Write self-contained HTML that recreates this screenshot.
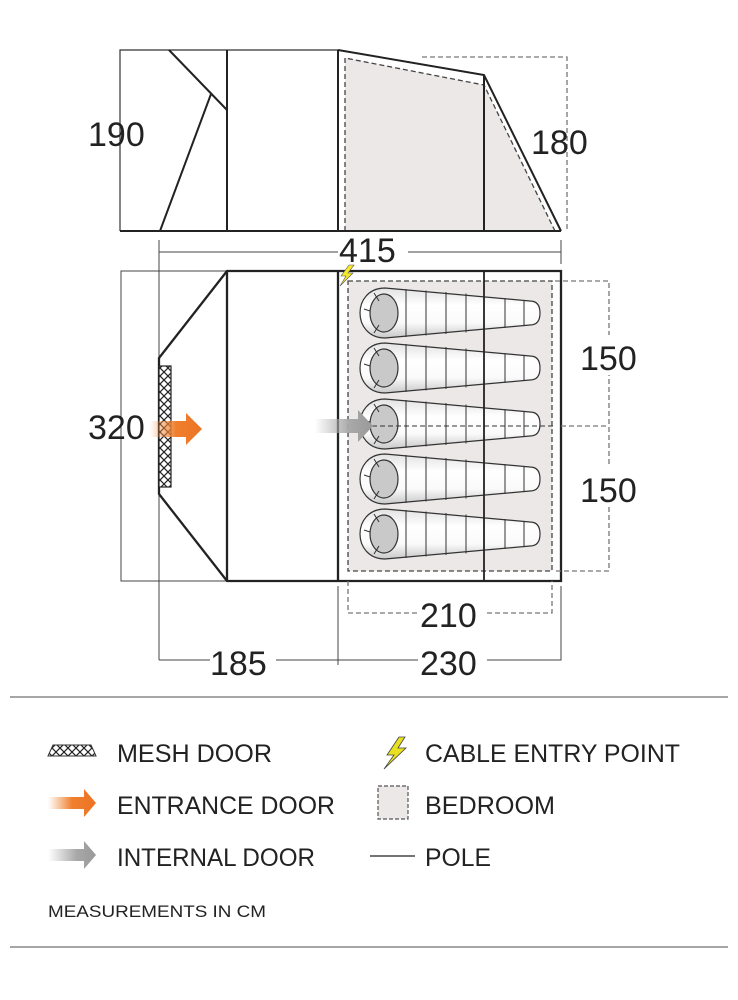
<!DOCTYPE html>
<html><head><meta charset="utf-8"><style>
html,body{margin:0;padding:0;background:#fff;}
svg{display:block;font-family:"Liberation Sans",sans-serif;}
</style></head><body>
<svg width="738" height="1000" viewBox="0 0 738 1000" xmlns="http://www.w3.org/2000/svg">
<defs>
<linearGradient id="og" x1="0" x2="1"><stop offset="0" stop-color="#f08a3c" stop-opacity="0"/><stop offset="0.5" stop-color="#ef7f2e"/><stop offset="1" stop-color="#ec7424"/></linearGradient>
<linearGradient id="gg" x1="0" x2="1"><stop offset="0" stop-color="#aaa" stop-opacity="0"/><stop offset="0.6" stop-color="#a8a8a8"/><stop offset="1" stop-color="#999"/></linearGradient>
<linearGradient id="bg" x1="0" y1="0" x2="0" y2="1"><stop offset="0" stop-color="#e2e2e2"/><stop offset="0.35" stop-color="#fff"/><stop offset="0.7" stop-color="#fafafa"/><stop offset="1" stop-color="#c8c8c8"/></linearGradient>
<pattern id="mesh" width="8" height="8" patternUnits="userSpaceOnUse"><rect width="8" height="8" fill="#fff"/><path d="M0 0L8 8M8 0L0 8" stroke="#222" stroke-width="1.2"/></pattern>
<g id="bag">
<path d="M25,-25 C8,-25 0,-12 0,0 C0,12 8,25 25,25 L170,12 C178,12 180,6 180,0 C180,-6 178,-12 170,-12 Z" fill="url(#bg)" stroke="#333" stroke-width="1.2"/>
<ellipse cx="24" cy="0" rx="14" ry="19" fill="#c9c9c9" stroke="#333" stroke-width="1.2"/>
<g stroke="#333" stroke-width="1">
<line x1="46" y1="-24" x2="46" y2="24"/><line x1="66" y1="-22.5" x2="66" y2="22.5"/><line x1="86" y1="-21" x2="86" y2="21"/><line x1="106" y1="-19.5" x2="106" y2="19.5"/><line x1="145" y1="-15" x2="145" y2="15"/><line x1="164" y1="-13" x2="164" y2="13"/>
<path d="M14,-20 L19,-12 M4,-4 L10,-2 M14,20 L19,12" fill="none"/>
</g>
</g>
</defs>

<!-- SIDE VIEW -->
<g fill="none">
<path d="M422,57 H567 V231" stroke="#777" stroke-width="1.3" stroke-dasharray="5,3"/>
<polygon points="345,58 484,85 555,231 345,231" fill="#ebe8e7"/>
<path d="M345,231 V58 L484,85 L555,231" stroke="#444" stroke-width="1.3" stroke-dasharray="5,3"/>
<path d="M120,231 V50 H338" stroke="#333" stroke-width="1.2"/>
<path d="M169,50 L227,110 M160,231 L211,94" stroke="#222" stroke-width="2"/>
<line x1="227" y1="50" x2="227" y2="231" stroke="#222" stroke-width="2"/>
<line x1="338" y1="50" x2="338" y2="231" stroke="#222" stroke-width="2"/>
<path d="M338,50 L484,75 L561,231" stroke="#222" stroke-width="2"/>
<line x1="484" y1="75" x2="484" y2="231" stroke="#222" stroke-width="2"/>
<line x1="120" y1="231" x2="561" y2="231" stroke="#222" stroke-width="2"/>
</g>
<text x="88" y="146" font-size="34" fill="#222">190</text>
<text x="531" y="154" font-size="34" fill="#222">180</text>

<!-- 415 -->
<g stroke="#444" stroke-width="1" fill="none">
<path d="M159,252 H338 M408,252 H561 M561,240 V264"/>
<line x1="159" y1="240" x2="159" y2="358"/>
<line x1="159" y1="494" x2="159" y2="660"/>
</g>
<text x="339" y="262" font-size="34" fill="#222">415</text>

<!-- FLOOR PLAN -->
<path d="M227,271 H121 V581 H227" fill="none" stroke="#444" stroke-width="1"/>
<rect x="348" y="281" width="204" height="290" fill="#ebe8e7" stroke="#444" stroke-width="1.3" stroke-dasharray="5,3"/>
<use href="#bag" x="360" y="313"/>
<use href="#bag" x="360" y="368"/>
<use href="#bag" x="360" y="424"/>
<use href="#bag" x="360" y="479"/>
<use href="#bag" x="360" y="534"/>
<line x1="372" y1="426" x2="555" y2="426" stroke="#333" stroke-width="1" stroke-dasharray="5,3"/>
<g fill="none" stroke="#222" stroke-width="2.3">
<path d="M227,271 H561 V581 H227 L159,494 V358 Z"/>
<line x1="227" y1="271" x2="227" y2="581"/>
<line x1="338" y1="271" x2="338" y2="581"/>
<line x1="484" y1="271" x2="484" y2="581" stroke-width="1.8"/>
</g>
<rect x="159" y="366" width="12" height="121" fill="url(#mesh)" stroke="#222" stroke-width="1.2"/>
<path d="M150,421 H186 V413 L202,429 L186,445 V437 H150 Z" fill="url(#og)"/>
<path d="M315,419 H358 V410 L373,426 L358,442 V433 H315 Z" fill="url(#gg)"/>
<path d="M349,265 L341,276 L346,276 L340,286 L353,273 L348,273 L354,265 Z" fill="#f5e92a" stroke="#555" stroke-width="0.6"/>
<text x="88" y="439" font-size="34" fill="#222">320</text>

<!-- right dims -->
<path d="M555,281 H609 V571 H555 M561,426 H609" fill="none" stroke="#777" stroke-width="1.3" stroke-dasharray="5,3"/>
<rect x="578" y="335" width="64" height="40" fill="#fff"/>
<rect x="578" y="467" width="64" height="40" fill="#fff"/>
<text x="580" y="370" font-size="34" fill="#222">150</text>
<text x="580" y="502" font-size="34" fill="#222">150</text>

<!-- bottom dims -->
<path d="M348,581 V613 H418 M487,613 H552 V581" fill="none" stroke="#777" stroke-width="1.3" stroke-dasharray="5,3"/>
<text x="420" y="627" font-size="34" fill="#222">210</text>
<path d="M159,660 H210 M276,660 H418 M487,660 H561 V586 M338,586 V665" fill="none" stroke="#444" stroke-width="1"/>
<text x="210" y="675" font-size="34" fill="#222">185</text>
<text x="420" y="675" font-size="34" fill="#222">230</text>

<!-- LEGEND -->
<line x1="10" y1="697" x2="728" y2="697" stroke="#888" stroke-width="1.5"/>
<line x1="10" y1="947" x2="728" y2="947" stroke="#888" stroke-width="1.5"/>
<path d="M48,756 L53,745 H91 L96,756 Z" fill="url(#mesh)" stroke="#333" stroke-width="1"/>
<text x="117" y="762" font-size="25" fill="#222" textLength="155" lengthAdjust="spacingAndGlyphs">MESH DOOR</text>
<path d="M48,797 H84 V789 L96,803 L84,817 V809 H48 Z" fill="url(#og)"/>
<text x="117" y="814" font-size="25" fill="#222" textLength="218" lengthAdjust="spacingAndGlyphs">ENTRANCE DOOR</text>
<path d="M48,849 H84 V841 L96,855 L84,869 V861 H48 Z" fill="url(#gg)"/>
<text x="117" y="866" font-size="25" fill="#222" textLength="198" lengthAdjust="spacingAndGlyphs">INTERNAL DOOR</text>
<text x="48" y="917" font-size="17" fill="#222" textLength="218" lengthAdjust="spacingAndGlyphs">MEASUREMENTS IN CM</text>
<path d="M399,737 L387,755 L394,755 L384,769 L406,748 L398,748 L405,737 Z" fill="#e8e020" stroke="#444" stroke-width="0.8"/>
<text x="425" y="762" font-size="25" fill="#222" textLength="255" lengthAdjust="spacingAndGlyphs">CABLE ENTRY POINT</text>
<rect x="378" y="786" width="30" height="33" fill="#ebe8e7" stroke="#555" stroke-width="1.2" stroke-dasharray="4,2"/>
<text x="425" y="814" font-size="25" fill="#222" textLength="130" lengthAdjust="spacingAndGlyphs">BEDROOM</text>
<line x1="370" y1="856" x2="415" y2="856" stroke="#222" stroke-width="1.2"/>
<text x="425" y="866" font-size="25" fill="#222" textLength="66" lengthAdjust="spacingAndGlyphs">POLE</text>
</svg>
</body></html>
